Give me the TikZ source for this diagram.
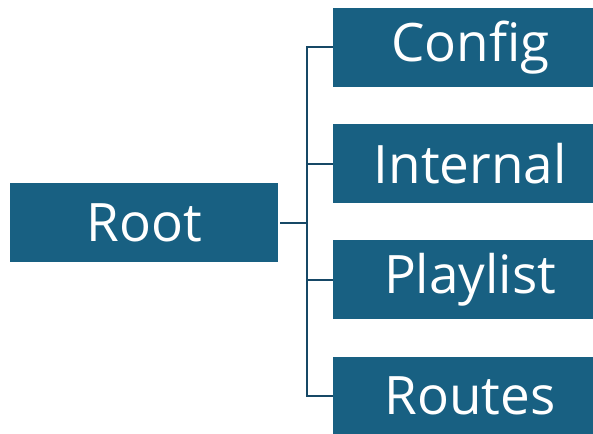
\documentclass[tikz,border=0pt]{standalone}
\usepackage{fontspec}
\setmainfont{Open Sans}
\definecolor{boxblue}{RGB}{24,96,130}
\definecolor{linkblue}{RGB}{22,72,102}

\begin{document}
\begin{tikzpicture}[x=1pt,y=-1pt,
    item/.style={fill=boxblue,text=white,inner sep=0pt,minimum height=79pt,font=\fontsize{53}{53}\selectfont},
    link/.style={draw=linkblue,line width=2pt}]
    \useasboundingbox (0,0) rectangle (593,433);
    \clip (0,0) rectangle (593,433);
    \node[item,minimum width=268pt] (root) at (144,222.5) {Root};
    \coordinate (trunk) at (307,222.5);
    \foreach \name/\label/\y in {config/Config/47.5,internal/Internal/163.5,playlist/Playlist/279.5,routes/Routes/396}
    \node[item,minimum width=274pt,anchor=west] (\name) at (333,\y) {\label};
    \draw[link] ([xshift=2pt]root.east) -- (trunk);
    \foreach \name in {config,internal,playlist,routes}
    \draw[link] (trunk) |- (\name.west);
\end{tikzpicture}
\end{document}
